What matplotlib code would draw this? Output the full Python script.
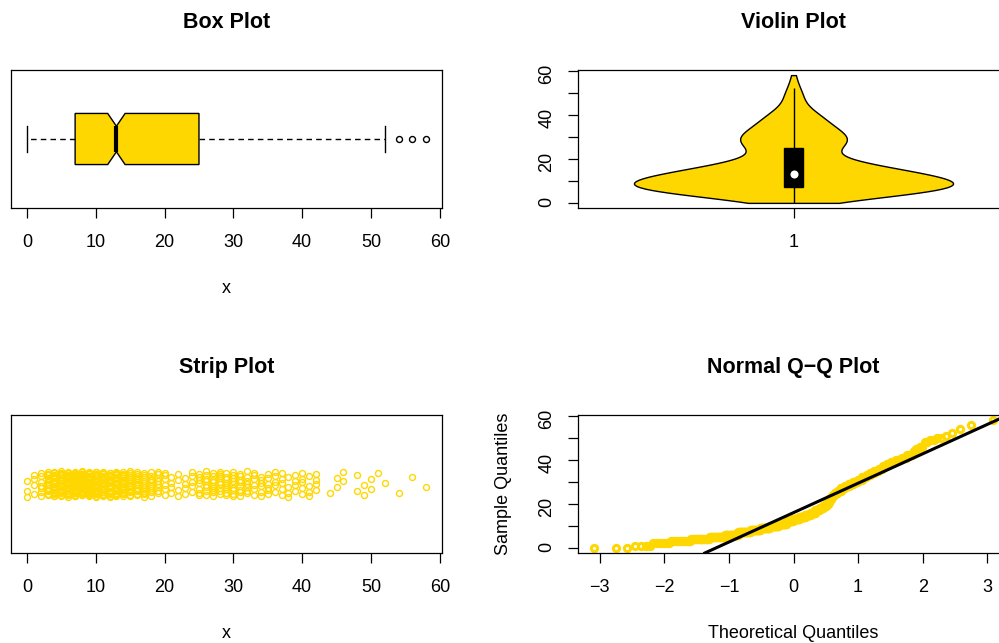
import numpy as np
import matplotlib
matplotlib.use("Agg")
import matplotlib.pyplot as plt
from matplotlib.patches import Rectangle
from statistics import NormalDist

# observed values 0..58 and how many times each one occurs (n = 500)
values = np.arange(0, 59)
counts = [3, 4, 7, 14, 20, 24, 26, 28, 26, 26,
          26, 24, 20, 20, 18, 16, 14, 12, 10, 8,
          6, 4, 4, 4, 5, 7, 8, 9, 9, 9,
          9, 8, 7, 6, 6, 6, 5, 5, 4, 4,
          5, 4, 4, 0, 1, 2, 2, 0, 2, 2,
          2, 1, 1, 0, 1, 0, 1, 0, 1]

x_ticks = [0, 10, 20, 30, 40, 50, 60]
y_ticks = [0, 10, 20, 30, 40, 50, 60]
y_tick_labels = ["0", "", "20", "", "40", "", "60"]
qq_ticks = [-3, -2, -1, 0, 1, 2, 3]

GOLD = "#FFD700"
FS = 13

plt.rcParams['font.family'] = ['Liberation Sans', 'DejaVu Sans']
plt.rcParams['axes.linewidth'] = 0.9

x = np.repeat(values, counts)
n = len(x)

fig = plt.figure(figsize=(9.99, 6.43), dpi=100)
W, H = 999, 643
aw, ah = 431 / W, 138 / H
ax1 = fig.add_axes([11 / W, 1 - 208 / H, aw, ah])
ax2 = fig.add_axes([578 / W, 1 - 208 / H, aw, ah])
ax3 = fig.add_axes([11 / W, 1 - 553 / H, aw, ah])
ax4 = fig.add_axes([578 / W, 1 - 553 / H, aw, ah])


def style(ax, title):
    ax.text(0.5, 1 + 48 / 138, title, transform=ax.transAxes, ha='center',
            va='center', fontsize=15.5, fontweight='bold')
    ax.tick_params(axis='x', length=7.5, width=0.9, pad=11, labelsize=FS)
    ax.tick_params(axis='y', length=7.5, width=0.9, pad=8.9, labelsize=FS,
                   labelrotation=90)


def xlabel(ax, s):
    ax.set_xlabel(s, fontsize=FS)
    ax.xaxis.set_label_coords(0.5, -80 / 138)
    ax.xaxis.label.set_va('center')


# box plot
ax1.boxplot(x, orientation='horizontal', notch=True, widths=0.4,
            patch_artist=True,
            boxprops=dict(facecolor=GOLD, edgecolor='black', linewidth=1),
            medianprops=dict(color='black', linewidth=3,
                             solid_capstyle='butt'),
            whiskerprops=dict(linestyle=(0, (4, 3)), linewidth=1),
            capprops=dict(linewidth=1),
            flierprops=dict(marker='o', markerfacecolor='none',
                            markeredgecolor='black', markersize=4.3,
                            markeredgewidth=1))
ax1.set_ylim(0.46, 1.54)
ax1.margins(x=0.04)
ax1.set_yticks([])
ax1.set_xticks(x_ticks)
style(ax1, "Box Plot")
xlabel(ax1, "x")

# violin plot
vp = ax2.violinplot([x], positions=[1], widths=0.8, showextrema=False,
                    bw_method=0.3)
for body in vp['bodies']:
    body.set_facecolor(GOLD)
    body.set_edgecolor('black')
    body.set_alpha(1)
    body.set_linewidth(1)
q1, med, q3 = np.percentile(x, [25, 50, 75])
iqr = q3 - q1
lo = x[x >= q1 - 1.5 * iqr].min()
hi = x[x <= q3 + 1.5 * iqr].max()
ax2.vlines(1, lo, hi, color='black', linewidth=1)
ax2.add_patch(Rectangle((1 - 0.025, q1), 0.05, iqr, color='black'))
ax2.plot(1, med, 'o', color='white', markersize=5.8, markeredgewidth=0)
ax2.set_xlim(0.46, 1.54)
ax2.set_ylim(x.min() - 0.04 * np.ptp(x), x.max() + 0.04 * np.ptp(x))
ax2.set_xticks([1])
ax2.set_yticks(y_ticks, y_tick_labels)
style(ax2, "Violin Plot")

# strip plot with a fixed jitter pattern
k = np.arange(n)
jitter = ((k * 0.6180339887) % 1 - 0.5) * 0.2
ax3.plot(x, 1 + jitter, 'o', markerfacecolor='none', markeredgecolor=GOLD,
         markersize=4.3, markeredgewidth=1)
ax3.set_ylim(0.46, 1.54)
ax3.margins(x=0.04)
ax3.set_yticks([])
ax3.set_xticks(x_ticks)
style(ax3, "Strip Plot")
xlabel(ax3, "x")

# normal Q-Q plot
nd = NormalDist()
p = (np.arange(1, n + 1) - 0.5) / n
theo = np.array([nd.inv_cdf(v) for v in p])
ax4.plot(theo, np.sort(x), 'o', markerfacecolor='none', markeredgecolor=GOLD,
         markersize=4.5, markeredgewidth=2.2)
zq = [nd.inv_cdf(0.25), nd.inv_cdf(0.75)]
slope = (q3 - q1) / (zq[1] - zq[0])
ax4.axline((zq[0], q1), slope=slope, color='black', linewidth=2.2)
ax4.margins(0.04)
ax4.set_xticks(qq_ticks)
ax4.set_yticks(y_ticks, y_tick_labels)
style(ax4, "Normal Q\u2212Q Plot")
xlabel(ax4, "Theoretical Quantiles")
ax4.set_ylabel("Sample Quantiles", fontsize=FS)
ax4.yaxis.set_label_coords(-75 / 431, 0.5)
ax4.yaxis.label.set_va('center')

fig.savefig("out.png", dpi=100)
